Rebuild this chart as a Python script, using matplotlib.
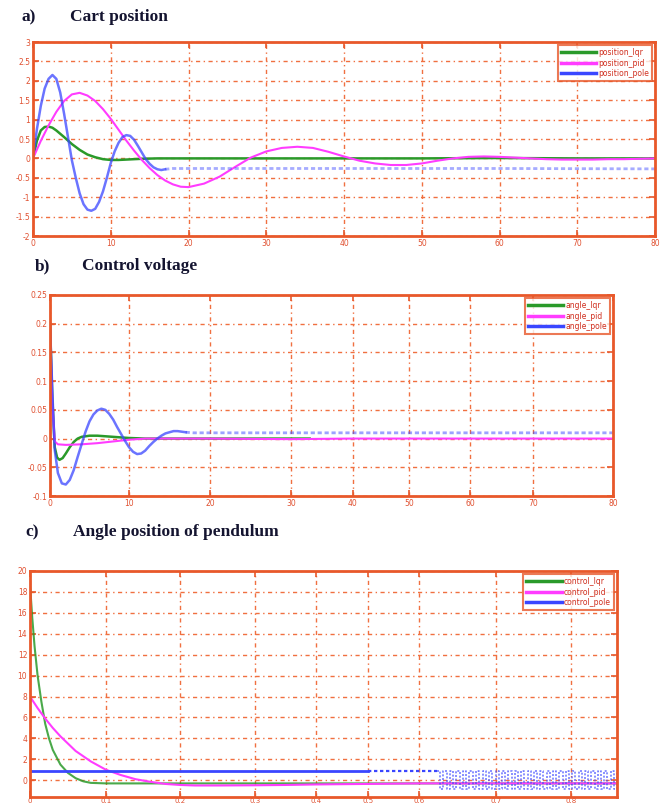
import numpy as np
import matplotlib
matplotlib.use("Agg")
import matplotlib.pyplot as plt
import matplotlib.ticker as ticker

# ========== Data ==========
# a) Cart position
a_lqr_t = [0, 0.5, 1, 1.5, 2, 2.5, 3, 4, 5, 6, 7, 8, 9, 10, 11, 12, 14, 16, 20, 30, 40, 50, 60, 70, 80]
a_lqr_y = [0, 0.45, 0.72, 0.81, 0.82, 0.79, 0.72, 0.55, 0.37, 0.22, 0.1, 0.03, -0.02, -0.04, -0.04,
           -0.03, -0.01, 0, 0, 0, 0, 0, 0.01, 0, 0]

a_pid_t = [0, 1, 2, 3, 4, 5, 6, 7, 8, 9, 10, 11, 12, 13, 14, 15, 16, 17, 18, 19, 20, 22, 24, 26, 28,
           30, 32, 34, 36, 38, 40, 42, 44, 46, 48, 50, 52, 54, 56, 58, 60, 62, 64, 66, 68, 70, 72,
           74, 76, 78, 80]
a_pid_y = [0, 0.45, 0.85, 1.2, 1.48, 1.65, 1.69, 1.62, 1.48, 1.27, 1.02, 0.74, 0.46, 0.2, -0.04,
           -0.25, -0.43, -0.57, -0.67, -0.73, -0.74, -0.65, -0.47, -0.22, 0.02, 0.18, 0.27, 0.3,
           0.27, 0.17, 0.05, -0.06, -0.13, -0.17, -0.17, -0.13, -0.06, 0.0, 0.04, 0.05, 0.04, 0.02,
           0.0, -0.02, -0.03, -0.03, -0.03, -0.02, -0.02, -0.01, 0]

a_pole_t = [0, 0.5, 1, 1.5, 2, 2.5, 3, 3.5, 4, 4.5, 5, 5.5, 6, 6.5, 7, 7.5, 8, 8.5, 9, 9.5, 10,
            10.5, 11, 11.5, 12, 12.5, 13, 13.5, 14, 14.5, 15, 15.5, 16, 16.5, 17]
a_pole_y = [0, 0.75, 1.35, 1.8, 2.05, 2.15, 2.05, 1.7, 1.15, 0.55, -0.05, -0.5, -0.9, -1.18, -1.32,
            -1.35, -1.3, -1.12, -0.85, -0.5, -0.12, 0.18, 0.4, 0.55, 0.6, 0.58, 0.48, 0.32, 0.15,
            -0.02, -0.14, -0.23, -0.28, -0.3, -0.28]
a_pole_tail_t = [17, 18, 20, 40, 60, 80]
a_pole_tail_y = [-0.28, -0.26, -0.26, -0.26, -0.26, -0.27]

# b) Control voltage
b_lqr_t = [0, 0.3, 0.6, 0.9, 1.2, 1.6, 2, 2.5, 3, 3.5, 4, 5, 6, 7, 8, 9, 10, 12, 15, 20, 30, 33]
b_lqr_y = [0.2, 0.07, -0.015, -0.033, -0.037, -0.034, -0.026, -0.015, -0.006, 0.0, 0.003, 0.005,
           0.005, 0.004, 0.003, 0.002, 0.001, 0, 0, 0, 0, 0]

b_pid_t = [0, 0.3, 0.6, 1, 2, 4, 6, 8, 10, 12, 15, 20, 30, 40, 50, 60, 70, 80]
b_pid_y = [0.2, 0.06, -0.005, -0.01, -0.011, -0.01, -0.008, -0.005, -0.002, 0, 0, 0, -0.001, 0, 0,
           0, 0, 0]

b_pole_t = [0, 0.3, 0.6, 1, 1.5, 2, 2.5, 3, 3.5, 4, 4.5, 5, 5.5, 6, 6.5, 7, 7.5, 8, 8.5, 9, 9.5,
            10, 10.5, 11, 11.5, 12, 12.5, 13, 13.5, 14, 14.5, 15, 15.5, 16, 16.5, 17]
b_pole_y = [0.2, 0.08, -0.02, -0.06, -0.078, -0.08, -0.072, -0.055, -0.032, -0.01, 0.012, 0.03,
            0.042, 0.049, 0.052, 0.05, 0.043, 0.033, 0.02, 0.008, -0.004, -0.015, -0.023, -0.027,
            -0.026, -0.021, -0.013, -0.006, 0.0, 0.005, 0.009, 0.011, 0.013, 0.013, 0.012, 0.011]
b_pole_tail_t = [17, 18, 20, 40, 60, 80]
b_pole_tail_y = [0.011, 0.01, 0.01, 0.01, 0.01, 0.01]

# c) Angle position of pendulum
c_lqr_t = [0, 0.003, 0.006, 0.01, 0.015, 0.02, 0.025, 0.03, 0.04, 0.05, 0.06, 0.07, 0.08, 0.1,
           0.12, 0.15, 0.2, 0.3, 0.4, 0.5, 0.6, 0.7, 0.8, 0.861]
c_lqr_y = [18.7, 15.5, 12.8, 10, 7.5, 5.4, 4.0, 2.9, 1.5, 0.7, 0.2, -0.1, -0.25, -0.3, -0.3, -0.3,
           -0.3, -0.3, -0.3, -0.3, -0.3, -0.3, -0.3, -0.3]

c_pid_t = [0, 0.01, 0.02, 0.03, 0.04, 0.05, 0.06, 0.07, 0.08, 0.09, 0.1, 0.12, 0.14, 0.16, 0.18,
           0.2, 0.22, 0.25, 0.3, 0.35, 0.4, 0.5, 0.6, 0.7, 0.8, 0.861]
c_pid_y = [8, 6.9, 5.9, 5.0, 4.2, 3.5, 2.8, 2.3, 1.8, 1.4, 1.0, 0.5, 0.1, -0.15, -0.35, -0.45, -0.5,
           -0.5, -0.48, -0.45, -0.4, -0.35, -0.3, -0.3, -0.3, -0.3]

c_pole_t = [0, 0.5]
c_pole_y = [0.9, 0.9]
c_pole_hold_t = [0.5, 0.623]
c_pole_hold_y = [0.9, 0.9]
# chattering part: switches between two levels, ~28 periods
c_chatter_start, c_chatter_end, c_chatter_cycles = 0.623, 0.861, 28
c_chatter_levels = [0.9, -0.85]

# tick positions of the (non-uniform) scanned axes: value -> pixel
b_xvals = [0, 10, 20, 30, 40, 50, 60, 70, 80]
b_xpix = [50, 129, 210, 291, 353, 409, 470, 533, 613]
c_xvals = [0, 0.1, 0.2, 0.3, 0.4, 0.5, 0.6, 0.7, 0.8, 0.861]
c_xpix = [30, 106, 180, 255, 316, 368, 419, 496, 571, 617]

# ========== Style ==========
ORANGE = '#e8582a'
GRID = '#f07040'
TXT = '#e05030'
GREEN = '#2a9a2a'
MAGENTA = '#ff3cff'
BLUE = '#3a46ff'

plt.rcParams.update({
    'font.family': 'DejaVu Sans',
    'axes.unicode_minus': False,
})

fig = plt.figure(figsize=(6.7, 8.1), dpi=100)


def px_scale(vals, pix):
    vals = np.asarray(vals, float)
    pix = np.asarray(pix, float)
    return (lambda x: np.interp(x, vals, pix), lambda p: np.interp(p, pix, vals))


def style_axes(ax, xticks, yticks):
    ax.xaxis.set_major_locator(ticker.FixedLocator(xticks))
    ax.yaxis.set_major_locator(ticker.FixedLocator(yticks))
    fmt = ticker.FuncFormatter(lambda v, p: '%g' % round(v, 6))
    ax.xaxis.set_major_formatter(fmt)
    ax.yaxis.set_major_formatter(fmt)
    for s in ax.spines.values():
        s.set_color(ORANGE)
        s.set_linewidth(2)
    ax.tick_params(direction='in', top=True, right=True, length=4, width=1.2,
                   color=ORANGE, labelcolor=TXT, labelsize=5.5, pad=2)
    ax.grid(True, color=GRID, linestyle=(0, (3, 2.5, 1, 2.5)), linewidth=1.0)
    ax.set_axisbelow(True)


def add_legend(ax, labels):
    leg = ax.legend(labels, loc='upper right', fontsize=5.5, frameon=True, fancybox=False,
                    borderaxespad=0.4, handlelength=4.6, labelspacing=0.2, borderpad=0.4,
                    handletextpad=0.3)
    leg.get_frame().set_edgecolor(ORANGE)
    leg.get_frame().set_linewidth(1.5)
    for t in leg.get_texts():
        t.set_color('#d03020')
    for ln in leg.get_lines():
        ln.set_linewidth(2.5)
        ln.set_alpha(1)
        ln.set_linestyle('-')


title_kw = dict(fontsize=12.5, fontweight='bold', family='Liberation Serif', color='#141430')

# ---------- a) Cart position ----------
ax1 = fig.add_axes([33 / 670, 1 - 236 / 810, 622 / 670, 194 / 810])
ax1.plot(a_lqr_t, a_lqr_y, color=GREEN, lw=1.8)
ax1.plot(a_pid_t, a_pid_y, color=MAGENTA, lw=1.5)
ax1.plot(a_pole_t, a_pole_y, color=BLUE, lw=1.8, alpha=0.75)
ax1.plot(a_pole_tail_t, a_pole_tail_y, color=BLUE, lw=2.0, alpha=0.45, linestyle=(0, (1.5, 1)))
ax1.set_xlim(0, 80)
ax1.set_ylim(-2, 3)
style_axes(ax1, np.arange(0, 81, 10), np.arange(-2, 3.01, 0.5))
add_legend(ax1, ['position_lqr', 'position_pid', 'position_pole'])
fig.text(22 / 670, 1 - 17 / 810, 'a)', va='center', **title_kw)
fig.text(70 / 670, 1 - 17 / 810, 'Cart position', va='center', **title_kw)

# ---------- b) Control voltage ----------
ax2 = fig.add_axes([50 / 670, 1 - 496 / 810, 563 / 670, 201 / 810])
ax2.set_xscale('function', functions=px_scale(b_xvals, b_xpix))
ax2.plot(b_lqr_t, b_lqr_y, color=GREEN, lw=1.8)
ax2.plot(b_pid_t, b_pid_y, color=MAGENTA, lw=1.5)
ax2.plot(b_pole_t, b_pole_y, color=BLUE, lw=1.8, alpha=0.75)
ax2.plot(b_pole_tail_t, b_pole_tail_y, color=BLUE, lw=2.0, alpha=0.5, linestyle=(0, (1.5, 1)))
ax2.set_xlim(0, 80)
ax2.set_ylim(-0.1, 0.25)
style_axes(ax2, b_xvals, np.arange(-0.1, 0.251, 0.05))
add_legend(ax2, ['angle_lqr', 'angle_pid', 'angle_pole'])
fig.text(35 / 670, 1 - 266 / 810, 'b)', va='center', **title_kw)
fig.text(82 / 670, 1 - 266 / 810, 'Control voltage', va='center', **title_kw)

# ---------- c) Angle position of pendulum ----------
ax3 = fig.add_axes([30 / 670, 1 - 797 / 810, 587 / 670, 226 / 810])
ax3.set_xscale('function', functions=px_scale(c_xvals, c_xpix))
ax3.plot(c_lqr_t, c_lqr_y, color=GREEN, lw=1.5, alpha=0.85)
ax3.plot(c_pid_t, c_pid_y, color=MAGENTA, lw=1.5)
ax3.plot(c_pole_t, c_pole_y, color=BLUE, lw=2.0)
ax3.plot(c_pole_hold_t, c_pole_hold_y, color=BLUE, lw=1.6, linestyle=(0, (1.5, 1.2)))
chat_t = np.linspace(c_chatter_start, c_chatter_end, 2 * c_chatter_cycles + 1)
chat_y = (c_chatter_levels * (c_chatter_cycles + 1))[:len(chat_t)]
ax3.plot(chat_t, chat_y, color=BLUE, lw=1.2, alpha=0.7, drawstyle='steps-post',
         linestyle=(0, (1.2, 1)))
ax3.set_xlim(0, 0.861)
ax3.set_ylim(-1.6, 20)
style_axes(ax3, c_xvals[:-1], np.arange(0, 20.1, 2))
ax3.tick_params(axis='x', pad=1, labelsize=5)
add_legend(ax3, ['control_lqr', 'control_pid', 'control_pole'])
fig.text(25 / 670, 1 - 532 / 810, 'c)', va='center', **title_kw)
fig.text(73 / 670, 1 - 532 / 810, 'Angle position of pendulum', va='center', **title_kw)

fig.savefig('out.png', dpi=100)
